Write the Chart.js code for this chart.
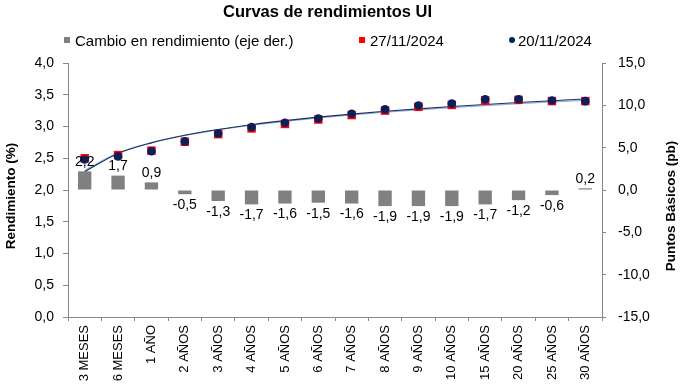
<!DOCTYPE html>
<html><head><meta charset="utf-8">
<script src="https://cdn.jsdelivr.net/npm/chart.js@4/dist/chart.umd.min.js"></script>
<style>html,body{margin:0;padding:0;background:#fff;overflow:hidden}#wrap{width:682px;height:384px;position:relative}</style>
</head><body><div id="wrap"><canvas id="c" width="682" height="384"></canvas></div>
<script>
const chartTitle = 'Curvas de rendimientos UI';
const leftAxisTitle = 'Rendimiento (%)';
const rightAxisTitle = 'Puntos Básicos (pb)';
const seriesNames = ['Cambio en rendimiento (eje der.)', '27/11/2024', '20/11/2024'];
const categories = ['3 MESES','6 MESES','1 AÑO','2 AÑOS','3 AÑOS','4 AÑOS','5 AÑOS','6 AÑOS','7 AÑOS','8 AÑOS','9 AÑOS','10 AÑOS','15 AÑOS','20 AÑOS','25 AÑOS','30 AÑOS'];
const cambio = [2.2, 1.7, 0.9, -0.5, -1.3, -1.7, -1.6, -1.5, -1.6, -1.9, -1.9, -1.9, -1.7, -1.2, -0.6, 0.2];
const rend27 = [2.50, 2.55, 2.62, 2.76, 2.88, 2.97, 3.04, 3.11, 3.18, 3.25, 3.31, 3.34, 3.41, 3.42, 3.40, 3.40];
const rend20 = [2.48, 2.53, 2.61, 2.765, 2.89, 2.99, 3.06, 3.125, 3.20, 3.27, 3.33, 3.36, 3.43, 3.43, 3.41, 3.40];
const leftRange = [0, 4, 0.5];
const rightRange = [-15, 15, 5];

const fmt = v => Number(v).toFixed(1).replace('.', ',');
const FONT = '"Liberation Sans", Arial, sans-serif';

// Logarithmic trendline (least squares on ln(position)), as the spreadsheet trendline
function logFit(ys) {
  const n = ys.length;
  const xs = ys.map((_, i) => Math.log(i + 1));
  const mx = xs.reduce((a, b) => a + b, 0) / n;
  const my = ys.reduce((a, b) => a + b, 0) / n;
  let sxy = 0, sxx = 0;
  for (let i = 0; i < n; i++) { sxy += (xs[i] - mx) * (ys[i] - my); sxx += (xs[i] - mx) ** 2; }
  const a = sxy / sxx, b = my - a * mx;
  return xs.map(x => b + a * x);
}

const overlay = {
  id: 'overlay',
  afterDatasetsDraw(chart) {
    const ctx = chart.ctx;
    // bar value labels
    const meta = chart.getDatasetMeta(0);
    ctx.save();
    ctx.font = '14px ' + FONT;
    ctx.fillStyle = '#000';
    ctx.textAlign = 'center';
    meta.data.forEach((bar, i) => {
      const v = cambio[i];
      if (v >= 0) { ctx.textBaseline = 'bottom'; ctx.fillText(fmt(v), bar.x, bar.y - 2); }
      else { ctx.textBaseline = 'top'; ctx.fillText(fmt(v), bar.x, bar.y + 4); }
    });
    ctx.restore();
  },
  afterDraw(chart) {
    const ctx = chart.ctx;
    const ca = chart.chartArea;
    ctx.save();
    ctx.fillStyle = '#000';
    // title
    ctx.font = 'bold 16.5px ' + FONT;
    ctx.textAlign = 'center'; ctx.textBaseline = 'alphabetic';
    ctx.fillText(chartTitle, 327.5, 17);
    // legend
    ctx.font = '15px ' + FONT;
    ctx.textAlign = 'left';
    ctx.fillStyle = '#808080'; ctx.fillRect(64, 37, 6, 6);
    ctx.fillStyle = '#000'; ctx.fillText(seriesNames[0], 75, 46);
    ctx.fillStyle = '#FF0000'; ctx.fillRect(359, 37, 6, 6);
    ctx.fillStyle = '#000'; ctx.fillText(seriesNames[1], 370, 46);
    ctx.fillStyle = '#002060'; ctx.beginPath(); ctx.arc(512, 40, 3, 0, Math.PI * 2); ctx.fill();
    ctx.fillStyle = '#000'; ctx.fillText(seriesNames[2], 518, 46);
    // axis titles
    ctx.font = 'bold 13.5px ' + FONT;
    ctx.textAlign = 'center'; ctx.textBaseline = 'middle';
    ctx.save(); ctx.translate(11, 196); ctx.rotate(-Math.PI / 2); ctx.fillText(leftAxisTitle, 0, 0); ctx.restore();
    ctx.save(); ctx.translate(671, 206); ctx.rotate(-Math.PI / 2); ctx.fillText(rightAxisTitle, 0, 0); ctx.restore();
    ctx.restore();
  }
};

const axisColor = '#868686';
new Chart(document.getElementById('c'), {
  type: 'bar',
  data: {
    labels: categories,
    datasets: [
      { type: 'bar', label: seriesNames[0], data: cambio, yAxisID: 'y1', backgroundColor: '#808080', barPercentage: 0.4, categoryPercentage: 1, order: 5 },
      { type: 'line', label: seriesNames[1] + ' tendencia', data: logFit(rend27), yAxisID: 'y', borderColor: '#8DB4E2', borderWidth: 1.3, pointRadius: 0, cubicInterpolationMode: 'monotone', fill: false, order: 4 },
      { type: 'line', label: seriesNames[2] + ' tendencia', data: logFit(rend20), yAxisID: 'y', borderColor: '#1F2F5A', borderWidth: 1.1, pointRadius: 0, cubicInterpolationMode: 'monotone', fill: false, order: 3 },
      { type: 'line', label: seriesNames[1], data: rend27, yAxisID: 'y', showLine: false, pointStyle: 'rect', pointRadius: 6, backgroundColor: '#FF0000', borderColor: '#FF0000', borderWidth: 0, order: 2 },
      { type: 'line', label: seriesNames[2], data: rend20, yAxisID: 'y', showLine: false, pointStyle: 'circle', pointRadius: 4.3, backgroundColor: '#0A1F5C', borderColor: '#0A1F5C', borderWidth: 0, order: 1 }
    ]
  },
  options: {
    responsive: false, animation: false, devicePixelRatio: 1,
    layout: { padding: { top: 63, left: 0, right: 0, bottom: 0 } },
    plugins: { legend: { display: false }, title: { display: false }, tooltip: { enabled: false } },
    scales: {
      x: {
        type: 'category', offset: true,
        grid: { display: true, drawOnChartArea: false, drawTicks: true, tickLength: 4, color: axisColor, offset: true },
        border: { display: true, color: axisColor },
        ticks: { maxRotation: 90, minRotation: 90, autoSkip: false, color: '#000', padding: 4, font: { size: 13, family: FONT } },
        afterFit(s) { s.height = 67; }
      },
      y: {
        position: 'left', min: leftRange[0], max: leftRange[1],
        ticks: { stepSize: leftRange[2], callback: v => fmt(v), color: '#000', padding: 9, font: { size: 14, family: FONT } },
        grid: { display: true, drawOnChartArea: false, tickLength: 5, color: axisColor },
        border: { display: true, color: axisColor },
        afterFit(s) { s.width = 68; }
      },
      y1: {
        position: 'right', min: rightRange[0], max: rightRange[1],
        ticks: { stepSize: rightRange[2], callback: v => fmt(v), color: '#000', padding: 12, font: { size: 14, family: FONT } },
        grid: { display: true, drawOnChartArea: false, tickLength: 4, color: axisColor },
        border: { display: true, color: axisColor },
        afterFit(s) { s.width = 80; }
      }
    }
  },
  plugins: [overlay]
});
</script></body></html>
